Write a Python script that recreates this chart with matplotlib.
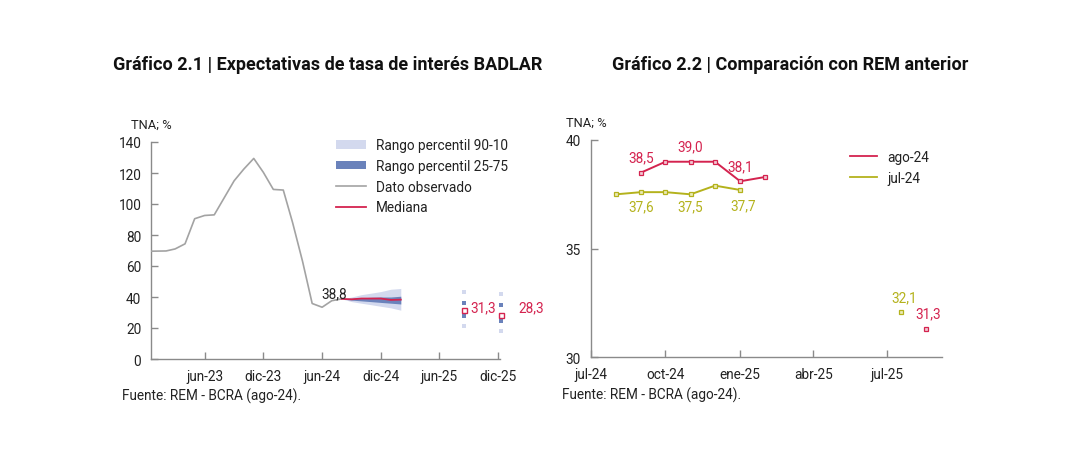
import matplotlib
matplotlib.use("Agg")
import matplotlib.pyplot as plt
from matplotlib.patches import Patch
from matplotlib.lines import Line2D
import pandas as pd

plt.rcParams['font.family'] = ['Roboto', 'DejaVu Sans']

# ---------------- data: Gráfico 2.1 ----------------
obs_dates = pd.date_range('2022-12-01', '2024-08-01', freq='MS')
obs_values = [69.5, 69.6, 69.7, 71.0, 74.3, 90.5, 92.6, 93.0, 104.0, 115.0,
              122.5, 129.4, 120.4, 109.4, 109.0, 88.0, 63.0, 35.8, 33.4, 37.6, 38.8]

fan_dates = pd.date_range('2024-08-01', '2025-02-01', freq='MS')
fan_median = [38.8, 38.5, 39.0, 39.0, 39.0, 38.1, 38.3]
fan_p90 = [38.8, 40.0, 41.5, 42.5, 43.5, 45.0, 45.5]
fan_p10 = [38.8, 37.0, 36.0, 35.0, 34.0, 33.0, 31.5]
fan_p75 = [38.8, 39.2, 39.5, 39.8, 40.0, 40.0, 40.5]
fan_p25 = [38.8, 38.0, 37.5, 37.0, 36.5, 36.0, 35.5]

annual_dates = pd.to_datetime(['2025-08-16', '2025-12-10'])
annual_p90 = [43.0, 41.9]
annual_p75 = [36.1, 35.0]
annual_median = [31.3, 28.3]
annual_p25 = [27.9, 24.7]
annual_p10 = [21.5, 18.3]

ticks1 = pd.to_datetime(['2023-06-01', '2023-12-01', '2024-06-01',
                         '2024-12-01', '2025-06-01', '2025-12-01'])
ticklabels1 = ['jun-23', 'dic-23', 'jun-24', 'dic-24', 'jun-25', 'dic-25']
yticks1 = [0, 20, 40, 60, 80, 100, 120, 140]

# ---------------- data: Gráfico 2.2 ----------------
ago_dates = pd.date_range('2024-09-01', '2025-02-01', freq='MS')
ago_values = [38.5, 39.0, 39.0, 39.0, 38.1, 38.3]
ago_annual_date = pd.to_datetime(['2025-08-18'])
ago_annual = [31.3]
jul_dates = pd.date_range('2024-08-01', '2025-01-01', freq='MS')
jul_values = [37.5, 37.6, 37.6, 37.5, 37.9, 37.7]
jul_annual_date = pd.to_datetime(['2025-07-18'])
jul_annual = [32.1]

ticks2 = pd.to_datetime(['2024-07-01', '2024-10-01', '2025-01-01', '2025-04-01', '2025-07-01'])
ticklabels2 = ['jul-24', 'oct-24', 'ene-25', 'abr-25', 'jul-25']
yticks2 = [30, 35, 40]

# ---------------- style ----------------
RED = '#d4234f'
OLIVE = '#b4b21c'
LIGHT = '#d3d9ee'
DARK = '#6a82bb'
GRAY = '#a3a3a3'
SPINE = '#8a8a8a'
TXT = '#222222'
FS = 9.8

W, H = 1080, 460
fig = plt.figure(figsize=(W / 100, H / 100), dpi=100)


def fx(px):
    return px / W


def fy(py):
    return 1 - py / H


def style_axes(ax):
    for s in ['top', 'right']:
        ax.spines[s].set_visible(False)
    for s in ['left', 'bottom']:
        ax.spines[s].set_color(SPINE)
        ax.spines[s].set_linewidth(1.0)
    ax.tick_params(direction='in', length=5, color=SPINE, labelsize=FS,
                   labelcolor=TXT, width=1.0)
    ax.tick_params(axis='y', pad=7)
    ax.tick_params(axis='x', pad=7)


def fmt(v):
    return f"{v:.1f}".replace('.', ',')


# ================= Gráfico 2.1 =================
ax1 = fig.add_axes([fx(151), fy(360), fx(500 - 151), (360 - 143) / H])
style_axes(ax1)
ax1.plot(obs_dates, obs_values, color=GRAY, lw=1.2, zorder=3)
ax1.fill_between(fan_dates, fan_p10, fan_p90, color=LIGHT, lw=0, zorder=2)
ax1.fill_between(fan_dates, fan_p25, fan_p75, color=DARK, lw=0, zorder=2.5)
ax1.plot(fan_dates, fan_median, color=RED, lw=1.3, zorder=4)

ms_small = 2.6
for vals, col in [(annual_p90, LIGHT), (annual_p10, LIGHT), (annual_p75, DARK), (annual_p25, DARK)]:
    ax1.plot(annual_dates, vals, 's', color=col, ms=ms_small, mew=0, zorder=4, clip_on=False)
ax1.plot(annual_dates, annual_median, 's', mfc='white', mec=RED, ms=3.6, mew=1.0,
         zorder=5, clip_on=False)

ax1.annotate(fmt(obs_values[-1]), (obs_dates[-1], obs_values[-1]),
             xytext=(-8, 6), textcoords='offset pixels', ha='center', va='center',
             fontsize=FS, color=TXT, zorder=6)
ax1.annotate(fmt(annual_median[0]), (annual_dates[0], annual_median[0]),
             xytext=(7, 3), textcoords='offset pixels', ha='left', va='center',
             fontsize=FS, color=RED, annotation_clip=False)
ax1.annotate(fmt(annual_median[1]), (annual_dates[1], annual_median[1]),
             xytext=(17, 8), textcoords='offset pixels', ha='left', va='center',
             fontsize=FS, color=RED, annotation_clip=False)

ax1.set_xlim(pd.Timestamp('2022-12-16'), pd.Timestamp('2025-12-07'))
ax1.set_ylim(0, 140)
ax1.set_yticks(yticks1)
ax1.set_xticks(ticks1)
ax1.set_xticklabels(ticklabels1)

handles1 = [Patch(facecolor=LIGHT, edgecolor='none'),
            Patch(facecolor=DARK, edgecolor='none'),
            Line2D([], [], color=GRAY, lw=1.2),
            Line2D([], [], color=RED, lw=1.3)]
labels1 = ['Rango percentil 90-10', 'Rango percentil 25-75', 'Dato observado', 'Mediana']
fig.legend(handles1, labels1, loc='upper left', bbox_to_anchor=(fx(336), fy(139)),
           frameon=False, fontsize=FS, borderpad=0, borderaxespad=0,
           handlelength=2.2, handleheight=0.6, handletextpad=0.75, labelspacing=0.5,
           labelcolor=TXT)

fig.text(fx(131), fy(125), 'TNA; %', fontsize=FS - 0.5, color=TXT, ha='left', va='center')
fig.text(fx(122), fy(396), 'Fuente: REM - BCRA (ago-24).', fontsize=FS, color=TXT,
         ha='left', va='center')
fig.text(fx(327.5), fy(65), 'Gráfico 2.1 | Expectativas de tasa de interés BADLAR',
         fontsize=13, fontweight='bold', color='#111111', ha='center', va='center')

# ================= Gráfico 2.2 =================
ax2 = fig.add_axes([fx(590.7), fy(358.3), fx(941.7 - 590.7), (358.3 - 141) / H])
style_axes(ax2)
ax2.plot(ago_dates, ago_values, '-s', color=RED, lw=1.4, ms=3.2, mfc='#f3c9d4', mec=RED,
         mew=0.9, label='ago-24', zorder=4)
ax2.plot(jul_dates, jul_values, '-s', color=OLIVE, lw=1.4, ms=3.2, mfc='#ecebb8', mec=OLIVE,
         mew=0.9, label='jul-24', zorder=3)
ax2.plot(ago_annual_date, ago_annual, 's', ms=3.2, mfc='#f3c9d4', mec=RED, mew=0.9, zorder=4)
ax2.plot(jul_annual_date, jul_annual, 's', ms=3.2, mfc='#ecebb8', mec=OLIVE, mew=0.9, zorder=4)

for i, dy in [(0, 15), (2, 15), (4, 15)]:
    ax2.annotate(fmt(ago_values[i]), (ago_dates[i], ago_values[i]), xytext=(0, dy),
                 textcoords='offset pixels', ha='center', va='center', fontsize=FS, color=RED)
for i, dx, dy in [(1, 0, -14), (3, 0, -12), (5, 3, -15)]:
    ax2.annotate(fmt(jul_values[i]), (jul_dates[i], jul_values[i]), xytext=(dx, dy),
                 textcoords='offset pixels', ha='center', va='center', fontsize=FS, color=OLIVE)
ax2.annotate(fmt(jul_annual[0]), (jul_annual_date[0], jul_annual[0]), xytext=(3, 14),
             textcoords='offset pixels', ha='center', va='center', fontsize=FS, color=OLIVE)
ax2.annotate(fmt(ago_annual[0]), (ago_annual_date[0], ago_annual[0]), xytext=(2, 16),
             textcoords='offset pixels', ha='center', va='center', fontsize=FS, color=RED,
             annotation_clip=False)

ax2.set_xlim(pd.Timestamp('2024-07-01'), pd.Timestamp('2025-09-06'))
ax2.set_ylim(30, 40)
ax2.set_yticks(yticks2)
ax2.set_xticks(ticks2)
ax2.set_xticklabels(ticklabels2)

handles2 = [Line2D([], [], color=RED, lw=1.3), Line2D([], [], color=OLIVE, lw=1.3)]
fig.legend(handles2, ['ago-24', 'jul-24'], loc='upper left', bbox_to_anchor=(fx(850), fy(151)),
           frameon=False, fontsize=FS, borderpad=0, borderaxespad=0,
           handlelength=2.0, handletextpad=0.75, labelspacing=0.5, labelcolor=TXT)

fig.text(fx(566), fy(123), 'TNA; %', fontsize=FS - 0.5, color=TXT, ha='left', va='center')
fig.text(fx(562), fy(395), 'Fuente: REM - BCRA (ago-24).', fontsize=FS, color=TXT,
         ha='left', va='center')
fig.text(fx(790), fy(65), 'Gráfico 2.2 | Comparación con REM anterior',
         fontsize=13, fontweight='bold', color='#111111', ha='center', va='center')

fig.savefig('out.png', dpi=100, facecolor='white')
